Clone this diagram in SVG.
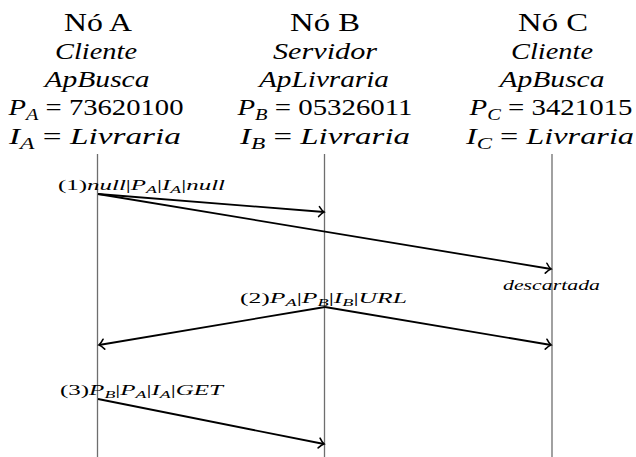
<svg xmlns="http://www.w3.org/2000/svg" width="636" height="457" viewBox="0 0 636 457">
<style>
text{font-family:"Liberation Serif","DejaVu Serif",serif;fill:#000}
.h{font-size:25px;text-anchor:middle}
.m{font-size:24px;text-anchor:middle}
.i{font-style:italic}
.sub{font-size:17px;font-style:italic}
.s{font-size:14px}
.ss{font-size:10px;font-style:italic}
.life{stroke:#6e6e6e;stroke-width:1.3;fill:none}
.msg{stroke:#000;stroke-width:1.8;fill:none;marker-end:url(#arr)}
</style>
<defs>
<marker id="arr" markerUnits="userSpaceOnUse" markerWidth="14" markerHeight="14" refX="0" refY="0" viewBox="-8 -7 10 14" orient="auto">
<path d="M-5,-5 Q-2,-1 0,0 Q-2,1 -5,5" fill="none" stroke="#000" stroke-width="1.6" stroke-linecap="round"/>
</marker>
</defs>
<g id="node-a">
<text class="h" x="98" y="31" textLength="68" lengthAdjust="spacingAndGlyphs">Nó A</text>
<text class="m i" x="96" y="59" textLength="82" lengthAdjust="spacingAndGlyphs">Cliente</text>
<text class="m i" x="97" y="87" textLength="105" lengthAdjust="spacingAndGlyphs">ApBusca</text>
<text class="m" x="96" y="115" textLength="175" lengthAdjust="spacingAndGlyphs"><tspan class="i">P</tspan><tspan class="sub" dy="5">A</tspan><tspan dy="-5"> = 73620100</tspan></text>
<text class="m" x="95" y="144" textLength="172" lengthAdjust="spacingAndGlyphs"><tspan class="i">I</tspan><tspan class="sub" dy="5">A</tspan><tspan dy="-5"> = </tspan><tspan class="i">Livraria</tspan></text>
<line class="life" x1="97.5" y1="154" x2="97.5" y2="457"/>
</g>
<g id="node-b">
<text class="h" x="325" y="31" textLength="70" lengthAdjust="spacingAndGlyphs">Nó B</text>
<text class="m i" x="325" y="59" textLength="104" lengthAdjust="spacingAndGlyphs">Servidor</text>
<text class="m i" x="324" y="87" textLength="130" lengthAdjust="spacingAndGlyphs">ApLivraria</text>
<text class="m" x="325" y="115" textLength="175" lengthAdjust="spacingAndGlyphs"><tspan class="i">P</tspan><tspan class="sub" dy="5">B</tspan><tspan dy="-5"> = 05326011</tspan></text>
<text class="m" x="325" y="144" textLength="170" lengthAdjust="spacingAndGlyphs"><tspan class="i">I</tspan><tspan class="sub" dy="5">B</tspan><tspan dy="-5"> = </tspan><tspan class="i">Livraria</tspan></text>
<line class="life" x1="324.5" y1="154" x2="324.5" y2="457"/>
</g>
<g id="node-c">
<text class="h" x="553" y="31" textLength="70" lengthAdjust="spacingAndGlyphs">Nó C</text>
<text class="m i" x="552" y="59" textLength="82" lengthAdjust="spacingAndGlyphs">Cliente</text>
<text class="m i" x="552" y="87" textLength="105" lengthAdjust="spacingAndGlyphs">ApBusca</text>
<text class="m" x="551" y="115" textLength="163" lengthAdjust="spacingAndGlyphs"><tspan class="i">P</tspan><tspan class="sub" dy="5">C</tspan><tspan dy="-5"> = 3421015</tspan></text>
<text class="m" x="550" y="144" textLength="168" lengthAdjust="spacingAndGlyphs"><tspan class="i">I</tspan><tspan class="sub" dy="5">C</tspan><tspan dy="-5"> = </tspan><tspan class="i">Livraria</tspan></text>
<line class="life" x1="552" y1="154" x2="552" y2="457"/>
</g>
<g id="connectors">
<path class="msg" d="M98,194 L324,212"/>
<path class="msg" d="M98,194 L551,269"/>
<path class="msg" d="M325,307 L99,345"/>
<path class="msg" d="M325,307 L551,345"/>
<path class="msg" d="M98,399 L324,444"/>
</g>
<g id="labels">
<text class="s" x="58" y="190" textLength="167" lengthAdjust="spacingAndGlyphs">(1)<tspan class="i">null</tspan>|<tspan class="i">P</tspan><tspan class="ss" dy="3">A</tspan><tspan dy="-3">|</tspan><tspan class="i">I</tspan><tspan class="ss" dy="3">A</tspan><tspan dy="-3">|</tspan><tspan class="i">null</tspan></text>
<text class="s i" x="503" y="290" textLength="97" lengthAdjust="spacingAndGlyphs">descartada</text>
<text class="s" x="240" y="303" textLength="167" lengthAdjust="spacingAndGlyphs">(2)<tspan class="i">P</tspan><tspan class="ss" dy="3">A</tspan><tspan dy="-3">|</tspan><tspan class="i">P</tspan><tspan class="ss" dy="3">B</tspan><tspan dy="-3">|</tspan><tspan class="i">I</tspan><tspan class="ss" dy="3">B</tspan><tspan dy="-3">|</tspan><tspan class="i">URL</tspan></text>
<text class="s" x="60" y="395" textLength="163" lengthAdjust="spacingAndGlyphs">(3)<tspan class="i">P</tspan><tspan class="ss" dy="3">B</tspan><tspan dy="-3">|</tspan><tspan class="i">P</tspan><tspan class="ss" dy="3">A</tspan><tspan dy="-3">|</tspan><tspan class="i">I</tspan><tspan class="ss" dy="3">A</tspan><tspan dy="-3">|</tspan><tspan class="i">GET</tspan></text>
</g>
</svg>
